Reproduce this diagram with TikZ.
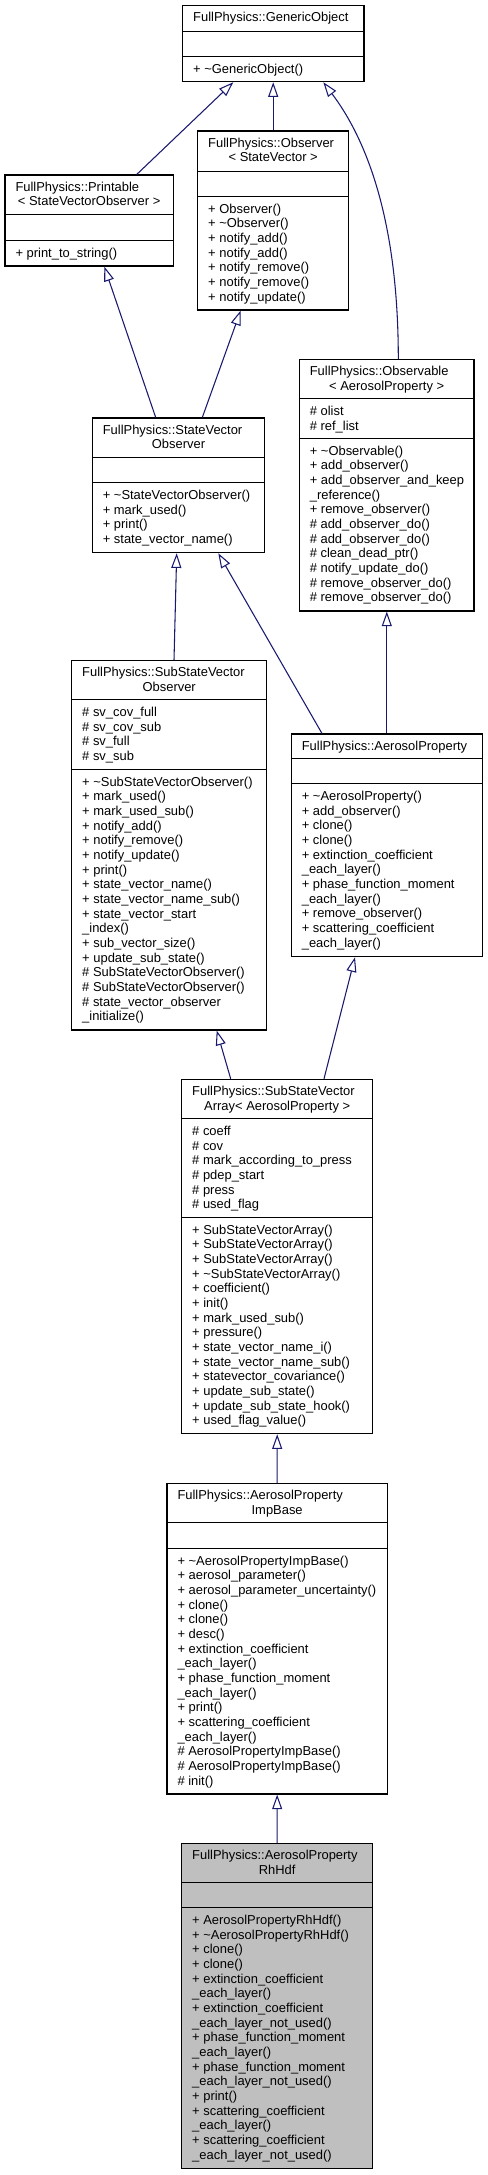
\documentclass[tikz,border=0pt]{standalone}
\usepackage{fontspec}
\setmainfont{Liberation Sans}
\usetikzlibrary{arrows.meta,calc,fit,positioning}
\definecolor{edgeblue}{RGB}{25,25,112}
\definecolor{leafgray}{RGB}{191,191,191}

\begin{document}
\begin{tikzpicture}[x=0.75pt,y=-0.75pt,
  cls/.style={draw=black,line width=0.8pt,inner sep=0pt},
  sep/.style={draw=black,line width=0.8pt},
  ttl/.style={anchor=base west,inner sep=0pt,font=\fontsize{9.7}{11}\selectfont},
  ttltwo/.style={anchor=base,inner sep=0pt,font=\fontsize{9.7}{11}\selectfont},
  mem/.style={anchor=north west,inner sep=0pt,align=left,font=\fontsize{9.7}{11}\selectfont},
  inh/.style={draw=edgeblue,line width=0.8pt,-{Triangle[open,length=11pt,width=7.5pt]}}]
  \useasboundingbox (0,0) rectangle (487,2175);

  % GenericObject
  \node[cls, fit={(182.7,5.7)(364,81.7)}] (genobj) {};
  \draw[sep] ($(genobj.north west)+(0,26)$) -- ($(genobj.north east)+(0,26)$);
  \draw[sep] ($(genobj.north west)+(0,51)$) -- ($(genobj.north east)+(0,51)$);
  \node[ttl] (genobj-t) at ($(genobj.north west)+(10.8,16.7)$) {FullPhysics::GenericObject};
  \node[mem] (genobj-m) at ($(genobj.north west)+(10.8,58.2)$) {+ \textasciitilde GenericObject()};

  % Observer< StateVector >
  \node[cls, fit={(197.7,131)(348.7,310)}] (observer) {};
  \draw[sep] ($(observer.north west)+(0,40.7)$) -- ($(observer.north east)+(0,40.7)$);
  \draw[sep] ($(observer.north west)+(0,65.7)$) -- ($(observer.north east)+(0,65.7)$);
  \node[ttl] (observer-t) at ($(observer.north west)+(10.8,16.7)$) {FullPhysics::Observer};
  \node[ttltwo] (observer-t2) at ($(observer.north)+(0,31.35)$) {< StateVector >};
  \node[mem] (observer-m) at ($(observer.north west)+(10.8,72.9)$) {+ Observer()\\+ \textasciitilde Observer()\\+ notify\_add()\\+ notify\_add()\\+ notify\_remove()\\+ notify\_remove()\\+ notify\_update()};

  % Printable< StateVectorObserver >
  \node[cls, fit={(5,175)(173.3,266)}] (printable) {};
  \draw[sep] ($(printable.north west)+(0,40.3)$) -- ($(printable.north east)+(0,40.3)$);
  \draw[sep] ($(printable.north west)+(0,65.7)$) -- ($(printable.north east)+(0,65.7)$);
  \node[ttl] (printable-t) at ($(printable.north west)+(10.8,16.7)$) {FullPhysics::Printable};
  \node[ttltwo] (printable-t2) at ($(printable.north)+(0,31.35)$) {< StateVectorObserver >};
  \node[mem] (printable-m) at ($(printable.north west)+(10.8,72.9)$) {+ print\_to\_string()};

  % Observable< AerosolProperty >
  \node[cls, fit={(299.3,359.3)(474,611)}] (observable) {};
  \draw[sep] ($(observable.north west)+(0,40)$) -- ($(observable.north east)+(0,40)$);
  \draw[sep] ($(observable.north west)+(0,79.7)$) -- ($(observable.north east)+(0,79.7)$);
  \node[ttl] (observable-t) at ($(observable.north west)+(10.8,16.7)$) {FullPhysics::Observable};
  \node[ttltwo] (observable-t2) at ($(observable.north)+(0,31.35)$) {< AerosolProperty >};
  \node[mem] (observable-a) at ($(observable.north west)+(10.8,47.2)$) {\# olist\\\# ref\_list};
  \node[mem] (observable-m) at ($(observable.north west)+(10.8,86.9)$) {+ \textasciitilde Observable()\\+ add\_observer()\\+ add\_observer\_and\_keep\\\_reference()\\+ remove\_observer()\\\# add\_observer\_do()\\\# add\_observer\_do()\\\# clean\_dead\_ptr()\\\# notify\_update\_do()\\\# remove\_observer\_do()\\\# remove\_observer\_do()};

  % StateVectorObserver
  \node[cls, fit={(92.3,418)(264.7,552.7)}] (svobs) {};
  \draw[sep] ($(svobs.north west)+(0,39.7)$) -- ($(svobs.north east)+(0,39.7)$);
  \draw[sep] ($(svobs.north west)+(0,65.3)$) -- ($(svobs.north east)+(0,65.3)$);
  \node[ttl] (svobs-t) at ($(svobs.north west)+(10.8,16.7)$) {FullPhysics::StateVector};
  \node[ttltwo] (svobs-t2) at ($(svobs.north)+(0,31.35)$) {Observer};
  \node[mem] (svobs-m) at ($(svobs.north west)+(10.8,72.5)$) {+ \textasciitilde StateVectorObserver()\\+ mark\_used()\\+ print()\\+ state\_vector\_name()};

  % SubStateVectorObserver
  \node[cls, fit={(71.7,660.7)(266.7,1030)}] (subsvobs) {};
  \draw[sep] ($(subsvobs.north west)+(0,39.6)$) -- ($(subsvobs.north east)+(0,39.6)$);
  \draw[sep] ($(subsvobs.north west)+(0,109.3)$) -- ($(subsvobs.north east)+(0,109.3)$);
  \node[ttl] (subsvobs-t) at ($(subsvobs.north west)+(10.8,16.7)$) {FullPhysics::SubStateVector};
  \node[ttltwo] (subsvobs-t2) at ($(subsvobs.north)+(0,31.35)$) {Observer};
  \node[mem] (subsvobs-a) at ($(subsvobs.north west)+(10.8,46.8)$) {\# sv\_cov\_full\\\# sv\_cov\_sub\\\# sv\_full\\\# sv\_sub};
  \node[mem] (subsvobs-m) at ($(subsvobs.north west)+(10.8,116.5)$) {+ \textasciitilde SubStateVectorObserver()\\+ mark\_used()\\+ mark\_used\_sub()\\+ notify\_add()\\+ notify\_remove()\\+ notify\_update()\\+ print()\\+ state\_vector\_name()\\+ state\_vector\_name\_sub()\\+ state\_vector\_start\\\_index()\\+ sub\_vector\_size()\\+ update\_sub\_state()\\\# SubStateVectorObserver()\\\# SubStateVectorObserver()\\\# state\_vector\_observer\\\_initialize()};

  % AerosolProperty
  \node[cls, fit={(291.3,734)(482.3,956.7)}] (aeroprop) {};
  \draw[sep] ($(aeroprop.north west)+(0,25)$) -- ($(aeroprop.north east)+(0,25)$);
  \draw[sep] ($(aeroprop.north west)+(0,50.3)$) -- ($(aeroprop.north east)+(0,50.3)$);
  \node[ttl] (aeroprop-t) at ($(aeroprop.north west)+(10.8,16.7)$) {FullPhysics::AerosolProperty};
  \node[mem] (aeroprop-m) at ($(aeroprop.north west)+(10.8,57.5)$) {+ \textasciitilde AerosolProperty()\\+ add\_observer()\\+ clone()\\+ clone()\\+ extinction\_coefficient\\\_each\_layer()\\+ phase\_function\_moment\\\_each\_layer()\\+ remove\_observer()\\+ scattering\_coefficient\\\_each\_layer()};

  % SubStateVectorArray< AerosolProperty >
  \node[cls, fit={(181.7,1079.3)(372.7,1433.7)}] (subsvarr) {};
  \draw[sep] ($(subsvarr.north west)+(0,40)$) -- ($(subsvarr.north east)+(0,40)$);
  \draw[sep] ($(subsvarr.north west)+(0,138.4)$) -- ($(subsvarr.north east)+(0,138.4)$);
  \node[ttl] (subsvarr-t) at ($(subsvarr.north west)+(10.8,16.7)$) {FullPhysics::SubStateVector};
  \node[ttltwo] (subsvarr-t2) at ($(subsvarr.north)+(0,31.35)$) {Array< AerosolProperty >};
  \node[mem] (subsvarr-a) at ($(subsvarr.north west)+(10.8,47.2)$) {\# coeff\\\# cov\\\# mark\_according\_to\_press\\\# pdep\_start\\\# press\\\# used\_flag};
  \node[mem] (subsvarr-m) at ($(subsvarr.north west)+(10.8,145.6)$) {+ SubStateVectorArray()\\+ SubStateVectorArray()\\+ SubStateVectorArray()\\+ \textasciitilde SubStateVectorArray()\\+ coefficient()\\+ init()\\+ mark\_used\_sub()\\+ pressure()\\+ state\_vector\_name\_i()\\+ state\_vector\_name\_sub()\\+ statevector\_covariance()\\+ update\_sub\_state()\\+ update\_sub\_state\_hook()\\+ used\_flag\_value()};

  % AerosolPropertyImpBase
  \node[cls, fit={(167,1483.3)(387.3,1794)}] (impbase) {};
  \draw[sep] ($(impbase.north west)+(0,40)$) -- ($(impbase.north east)+(0,40)$);
  \draw[sep] ($(impbase.north west)+(0,65.7)$) -- ($(impbase.north east)+(0,65.7)$);
  \node[ttl] (impbase-t) at ($(impbase.north west)+(10.8,16.7)$) {FullPhysics::AerosolProperty};
  \node[ttltwo] (impbase-t2) at ($(impbase.north)+(0,31.35)$) {ImpBase};
  \node[mem] (impbase-m) at ($(impbase.north west)+(10.8,72.9)$) {+ \textasciitilde AerosolPropertyImpBase()\\+ aerosol\_parameter()\\+ aerosol\_parameter\_uncertainty()\\+ clone()\\+ clone()\\+ desc()\\+ extinction\_coefficient\\\_each\_layer()\\+ phase\_function\_moment\\\_each\_layer()\\+ print()\\+ scattering\_coefficient\\\_each\_layer()\\\# AerosolPropertyImpBase()\\\# AerosolPropertyImpBase()\\\# init()};

  % AerosolPropertyRhHdf
  \node[cls, fill=leafgray, fit={(181.7,1843.3)(372.7,2168.3)}] (rhhdf) {};
  \draw[sep] ($(rhhdf.north west)+(0,40)$) -- ($(rhhdf.north east)+(0,40)$);
  \draw[sep] ($(rhhdf.north west)+(0,65)$) -- ($(rhhdf.north east)+(0,65)$);
  \node[ttl] (rhhdf-t) at ($(rhhdf.north west)+(10.8,16.7)$) {FullPhysics::AerosolProperty};
  \node[ttltwo] (rhhdf-t2) at ($(rhhdf.north)+(0,31.35)$) {RhHdf};
  \node[mem] (rhhdf-m) at ($(rhhdf.north west)+(10.8,72.2)$) {+ AerosolPropertyRhHdf()\\+ \textasciitilde AerosolPropertyRhHdf()\\+ clone()\\+ clone()\\+ extinction\_coefficient\\\_each\_layer()\\+ extinction\_coefficient\\\_each\_layer\_not\_used()\\+ phase\_function\_moment\\\_each\_layer()\\+ phase\_function\_moment\\\_each\_layer\_not\_used()\\+ print()\\+ scattering\_coefficient\\\_each\_layer()\\+ scattering\_coefficient\\\_each\_layer\_not\_used()};

  % inheritance
  \draw[inh] (printable.north -| 136.7,0) -- (genobj.south -| 233.3,0);
  \draw[inh] (observer.north) -- (observer.north |- genobj.south);
  \draw[inh] (observable.north -| 398.3,0) .. controls +(0,-139) and +(43,57) .. (genobj.south -| 323.3,0);
  \draw[inh] (svobs.north -| 155.7,0) -- (printable.south -| 104.3,0);
  \draw[inh] (svobs.north -| 202.3,0) -- (observer.south -| 240.7,0);
  \draw[inh] (subsvobs.north -| 174,0) -- (svobs.south -| 176.7,0);
  \draw[inh] (aeroprop.north -| 322,0) -- (svobs.south -| 218.3,0);
  \draw[inh] (aeroprop.north) -- (aeroprop.north |- observable.south);
  \draw[inh] (subsvarr.north -| 230.7,0) -- (subsvobs.south -| 216.7,0);
  \draw[inh] (subsvarr.north -| 324,0) -- (aeroprop.south -| 355,0);
  \draw[inh] (impbase.north) -- (subsvarr.south);
  \draw[inh] (rhhdf.north) -- (impbase.south);
\end{tikzpicture}
\end{document}
